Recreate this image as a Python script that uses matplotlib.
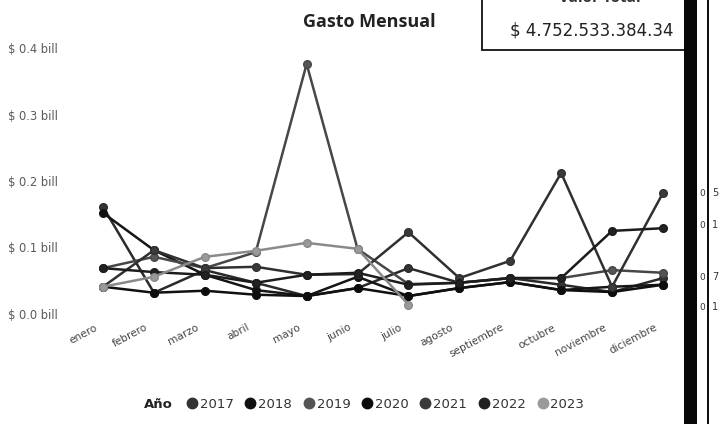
import matplotlib
matplotlib.use("Agg")
import matplotlib.pyplot as plt
import matplotlib.transforms as mtransforms
from matplotlib.patches import Rectangle
from matplotlib.lines import Line2D

# Monthly spending per year, in "bill" (thousand million pesos)
meses = ["enero", "febrero", "marzo", "abril", "mayo", "junio", "julio",
         "agosto", "septiembre", "octubre", "noviembre", "diciembre"]

gasto_2017 = [0.161, 0.032, 0.066, 0.047, 0.027, 0.039, 0.069, 0.047, 0.054, 0.044, 0.033, 0.054]
gasto_2018 = [0.152, 0.096, 0.059, 0.036, 0.027, 0.056, 0.027, 0.039, 0.048, 0.036, 0.041, 0.044]
gasto_2019 = [0.069, 0.086, 0.069, 0.093, 0.376, 0.098, 0.045, 0.047, 0.054, 0.054, 0.066, 0.062]
gasto_2020 = [0.041, 0.032, 0.035, 0.029, 0.027, 0.039, 0.027, 0.039, 0.048, 0.036, 0.033, 0.044]
gasto_2021 = [0.041, 0.096, 0.069, 0.071, 0.059, 0.060, 0.123, 0.054, 0.080, 0.212, 0.041, 0.182]
gasto_2022 = [0.069, 0.063, 0.059, 0.047, 0.059, 0.062, 0.044, 0.047, 0.054, 0.054, 0.125, 0.129]
gasto_2023 = [0.041, 0.056, 0.086, 0.095, 0.107, 0.098, 0.014]

anios = ["2017", "2018", "2019", "2020", "2021", "2022", "2023"]
series = [gasto_2017, gasto_2018, gasto_2019, gasto_2020, gasto_2021, gasto_2022, gasto_2023]

y_ticks = [0.0, 0.1, 0.2, 0.3, 0.4]
y_labels = ["$ 0.0 bill", "$ 0.1 bill", "$ 0.2 bill", "$ 0.3 bill", "$ 0.4 bill"]

valor_total = "$ 4.752.533.384.34"

line_colors = ["#2a2a2a", "#151515", "#474747", "#101010", "#303030", "#1c1c1c", "#8a8a8a"]
face_colors = ["#333333", "#111111", "#555555", "#0d0d0d", "#3a3a3a", "#222222", "#9a9a9a"]

W, H = 719, 424
fig = plt.figure(figsize=(W / 100, H / 100), dpi=100)
fig.patch.set_facecolor("white")

ax = fig.add_axes([90.3 / W, 1 - 314 / H, 585.4 / W, 266 / H])
ax.set_facecolor("none")

for vals, lc, fc in zip(series, line_colors, face_colors):
    x = list(range(len(vals)))
    ax.plot(x, vals, color=lc, lw=1.8, marker="o", ms=5.5,
            mfc=fc, mec=lc, mew=1.0, clip_on=False, zorder=3)

ax.set_xlim(-0.25, 11.25)
ax.set_ylim(0, 0.4)
for s in ax.spines.values():
    s.set_visible(False)
ax.tick_params(length=0)

ax.set_yticks(y_ticks)
ax.set_yticklabels(y_labels, fontsize=8.3, color="#5a5a5a", family="DejaVu Sans")
ax.tick_params(axis="y", pad=59)
for lab in ax.get_yticklabels():
    lab.set_horizontalalignment("left")

ax.set_xticks(range(len(meses)))
ax.set_xticklabels(meses, fontsize=7.6, color="#444444", rotation=28,
                   ha="right", rotation_mode="anchor", family="DejaVu Sans")
ax.tick_params(axis="x", pad=6)
shift = mtransforms.ScaledTranslation(-9 / 100, 0, fig.dpi_scale_trans)
for lab in ax.get_xticklabels():
    lab.set_transform(lab.get_transform() + shift)

# Title
fig.text(369 / W, 1 - 22 / H, "Gasto Mensual", ha="center", va="center",
         fontsize=13, fontweight="bold", family="Open Sans", color="#222222")

# Total value card
fig.patches.append(Rectangle((482 / W, 1 - 50 / H), 205 / W, 60 / H,
                             transform=fig.transFigure, facecolor="white",
                             edgecolor="#111111", lw=1.3, zorder=1))
fig.text(600 / W, 1 + 2 / H, "Valor Total", ha="center", va="center",
         fontsize=11, fontweight="bold", family="Open Sans", color="#333333")
fig.text(510 / W, 1 - 31 / H, valor_total, ha="left", va="center",
         fontsize=12, family="DejaVu Sans", color="#222222", zorder=2)

# Frame of the neighbouring panel
fig.patches.append(Rectangle((684 / W, 0), 13 / W, 1, transform=fig.transFigure,
                             facecolor="#080808", edgecolor="none", zorder=5))
fig.patches.append(Rectangle((707 / W, 0), 2 / W, 1, transform=fig.transFigure,
                             facecolor="#111111", edgecolor="none", zorder=5))
for yy, t in zip([193, 225, 277, 307], ["5", "1", "7", "1"]):
    fig.text(702 / W, 1 - yy / H, "0", ha="center", va="center", fontsize=6.5,
             color="#333333")
    fig.text(715 / W, 1 - yy / H, t, ha="center", va="center", fontsize=7,
             color="#333333")

# Legend
fig.text(158 / W, 1 - 404 / H, "Año", ha="center", va="center",
         fontsize=9.5, fontweight="bold", family="DejaVu Sans", color="#222222")
handles = [Line2D([], [], ls="none", marker="o", ms=7.5, mfc=fc, mec=fc)
           for fc in face_colors]
fig.legend(handles, anios, loc="center left", bbox_to_anchor=(187 / W, 1 - 404 / H),
           ncol=7, frameon=False, fontsize=9.5, handlelength=0.7,
           handletextpad=0.25, columnspacing=0.92, borderpad=0, borderaxespad=0,
           labelcolor="#333333")

fig.savefig("out.png", dpi=100, facecolor="white")
